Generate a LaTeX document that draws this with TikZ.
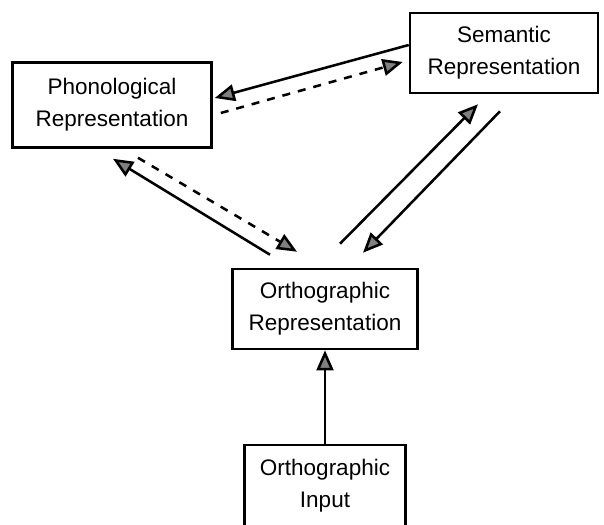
\documentclass[tikz,border=0pt]{standalone}
\usepackage{fontspec}
\setmainfont{Liberation Sans}
\usepackage{tikz}
\usetikzlibrary{arrows.meta,calc}

\begin{document}
\begin{tikzpicture}[x=0.025cm,y=-0.025cm,
		box/.style={draw,line width=1.8pt,align=center,inner sep=0pt,
			font=\fontsize{16}{23}\selectfont},
		link/.style={line width=1.8pt,-{Triangle[length=5mm,width=4.2mm,fill=black!50]}},
		dashlink/.style={link,dash pattern=on 0.2cm off 0.2cm}]
		\useasboundingbox (0,0) rectangle (604,525);
		\node[box,minimum width=4.975cm,minimum height=2.125cm] (Phon) at (112,105) {Phonological\\Representation};
		\node[box,minimum width=4.7cm,minimum height=2cm] (Sem) at (504,53) {Semantic\\Representation};
		\node[box,minimum width=4.625cm,minimum height=2cm] (Orth) at (325,309) {Orthographic\\Representation};
		\node[box,minimum width=4.025cm,minimum height=2.05cm] (Inp) at (325,486) {Orthographic\\Input};
		%
		\path
		($(Sem.west)+(0,-8)$) edge[link] ($(Phon.east)+(2,-7)$)
		($(Phon.east)+(8,8)$) edge[dashlink] ($(Sem.west)+(-6,9)$)
		($(Orth.north)+(-55,-13)$) edge[link] ($(Phon.south)+(1,10)$)
		($(Phon.south)+(26,9)$) edge[dashlink] ($(Orth.north)+(-28,-16)$)
		($(Orth.north)+(15,-24)$) edge[link] ($(Sem.south)+(-26,10)$)
		($(Sem.south)+(-4,17)$) edge[link] ($(Orth.north)+(38,-15)$)
		(Inp.north) edge[link] (Orth.south);
	\end{tikzpicture}
\end{document}
